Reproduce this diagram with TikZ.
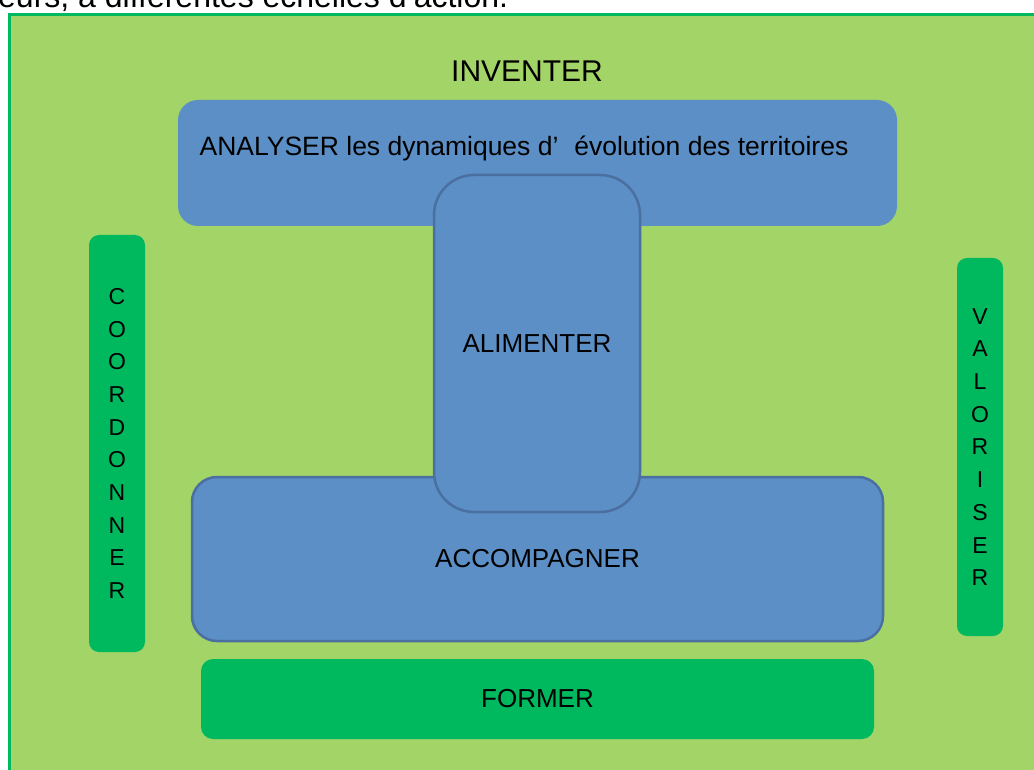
\documentclass[tikz,border=0pt]{standalone}
\usepackage{fontspec}
\setmainfont{Liberation Sans}
\usetikzlibrary{positioning}

\definecolor{fondvert}{HTML}{A3D468}
\definecolor{vertfonce}{HTML}{00B95F}
\definecolor{bleu}{HTML}{5B8FC6}
\definecolor{bleubord}{HTML}{4A6FA0}

\tikzset{
  cadre/.style={draw=vertfonce, line width=3pt, fill=fondvert},
  bleubox/.style={fill=bleu, inner sep=0pt, font=\fontsize{26}{30}\selectfont},
  bordbleu/.style={draw=bleubord, line width=2.5pt},
  vertbox/.style={fill=vertfonce, inner sep=0pt, align=center},
  lettres/.style={font=\fontsize{23}{32.7}\selectfont},
}

\begin{document}
\begin{tikzpicture}[x=1pt,y=-1pt]
    \useasboundingbox (0,0) rectangle (1034,770);
    \clip (0,0) rectangle (1034,770);

    % phrase coupée en haut
    \node[anchor=base west, inner sep=0pt, font=\fontsize{32}{36}\selectfont] (phrase) at (-2,8) {eurs, à différentes échelles d’action.};

    % cadre vert
    \draw[cadre] (9.5,14.5) rectangle (1050,790);

    % INVENTER
    \node[font=\fontsize{30}{34}\selectfont] (inventer) at (527,71) {INVENTER};

    % ANALYSER
    \node[bleubox, minimum width=719pt, minimum height=126pt, rounded corners=20pt] (analyser) at (537.5,163) {};
    \node[font=\fontsize{26.5}{30}\selectfont] (analysertexte) at (524,148) {ANALYSER les dynamiques d’\hspace{0.6em}évolution des territoires};

    % ACCOMPAGNER
    \node[bleubox, bordbleu, minimum width=691pt, minimum height=164pt, rounded corners=25pt] (accompagner) at (537.5,559) {ACCOMPAGNER};

    % ALIMENTER
    \node[bleubox, bordbleu, minimum width=206pt, minimum height=337pt, rounded corners=40pt] (alimenter) at (537,343.5) {ALIMENTER};

    % COORDONNER
    \node[vertbox, lettres, minimum width=56pt, minimum height=417pt, rounded corners=10pt] (coordonner) at (117,443.5) {C\\O\\O\\R\\D\\O\\N\\N\\E\\R};

    % VALORISER
    \node[vertbox, lettres, minimum width=46pt, minimum height=378pt, rounded corners=10pt] (valoriser) at (980,447) {V\\A\\L\\O\\R\\I\\S\\E\\R};

    % FORMER
    \node[vertbox, font=\fontsize{26}{30}\selectfont, minimum width=673pt, minimum height=80pt, rounded corners=12pt] (former) at (537.5,699) {FORMER};

\end{tikzpicture}
\end{document}
